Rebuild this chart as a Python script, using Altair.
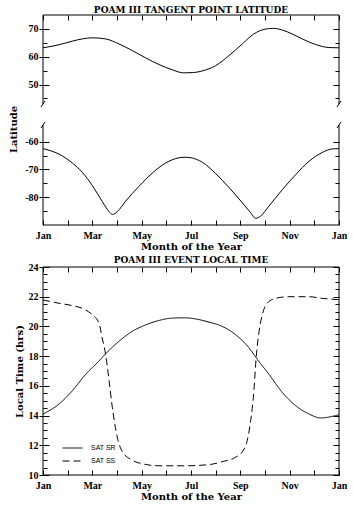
import json
import altair as alt
import pandas as pd

# ---------------- data ----------------
month_labels = ["Jan", "Mar", "May", "Jul", "Sep", "Nov", "Jan"]
month_ticks = list(range(13))
month_domain = [0, 12]

lat_upper = [43, 75]
lat_lower = [-90, -54]
lat_major = [-80, -70, -60, 50, 60, 70]
lat_minor = [-85, -75, -65, 45, 55, 65]

time_domain = [10, 24]
time_major = [10, 12, 14, 16, 18, 20, 22, 24]
time_minor = [10.5, 11, 11.5, 12.5, 13, 13.5, 14.5, 15, 15.5, 16.5, 17, 17.5,
              18.5, 19, 19.5, 20.5, 21, 21.5, 22.5, 23, 23.5]

north_month = [0, 0.65, 1.19, 1.59, 2.0, 2.54, 3.08, 3.62, 4.16, 4.70, 5.24, 5.70,
               6.10, 6.46, 7.0, 7.54, 8.08, 8.55, 9.0, 9.35, 9.7, 10.1, 10.51,
               11.05, 11.59, 12.0]
north_lat = [63.2, 64.3, 65.6, 66.4, 66.8, 66.4, 64.6, 62.2, 59.6, 57.2, 55.3, 54.2,
             54.3, 54.9, 56.8, 60.4, 64.6, 68.2, 69.9, 70.2, 69.6, 68.2, 66.4,
             64.4, 63.3, 63.2]

south_month = [0, 0.65, 1.19, 1.59, 2.0, 2.40, 2.68, 2.82, 3.01, 3.35, 3.89, 4.43,
               4.97, 5.51, 5.75, 6.0, 6.46, 7.0, 7.54, 8.08, 8.42, 8.62, 8.82, 9.16,
               9.70, 10.24, 10.78, 11.32, 11.73, 12.0]
south_lat = [-62.5, -64.5, -67.7, -71.0, -75.8, -81.5, -85.2, -86.2, -85.2, -81.4,
             -76.1, -71.3, -67.7, -65.8, -65.6, -65.8, -67.4, -71.5, -76.5, -82.0,
             -85.6, -87.6, -86.8, -83.2, -77.3, -71.9, -67.1, -63.9, -62.6, -62.5]

series_names = ["SAT SR", "SAT SS"]
sr_month = [0, 0.65, 1.19, 1.73, 2.27, 2.54, 3.08, 3.62, 4.16, 4.70, 5.24, 5.78,
            6.2, 6.73, 7.27, 7.81, 8.35, 8.69, 9.16, 9.70, 10.24, 10.78, 11.26,
            11.87, 12.0]
sr_time = [14.1, 14.78, 15.67, 16.78, 17.67, 18.16, 19.0, 19.67, 20.1, 20.4, 20.56,
           20.58, 20.5, 20.29, 20.0, 19.44, 18.56, 17.78, 16.78, 15.56, 14.67,
           14.11, 13.84, 14.0, 14.05]
ss_month = [0, 0.65, 1.19, 1.73, 2.0, 2.27, 2.40, 2.54, 2.68, 2.81, 3.01, 3.22,
            3.62, 4.16, 4.70, 5.78, 6.73, 7.27, 7.81, 8.08, 8.28, 8.42, 8.55, 8.62,
            8.76, 8.89, 9.09, 9.43, 9.97, 10.78, 11.32, 12.0]
ss_time = [21.78, 21.56, 21.4, 21.11, 20.78, 20.22, 19.22, 18.1, 16.33, 14.56,
           12.56, 11.56, 11.0, 10.71, 10.62, 10.62, 10.7, 10.9, 11.2, 11.56, 12.33,
           13.67, 15.67, 17.44, 19.67, 20.78, 21.56, 21.89, 22.0, 22.0, 21.89, 21.8]

# ---------------- style ----------------
LABEL_FONT = "Liberation Serif"
TITLE_FONT = "DejaVu Serif"
W = 296
LAT_H = 210
LOWER_PX = 100
UPPER_PX = 89
TIME_H = 208

x_scale = alt.Scale(domain=month_domain, nice=False, zero=False)
lat_scale = alt.Scale(domain=lat_lower + lat_upper,
                      range=[LAT_H, LAT_H - LOWER_PX, UPPER_PX, 0],
                      nice=False, zero=False)
time_scale = alt.Scale(domain=time_domain, nice=False, zero=False)
dash_scale = alt.Scale(domain=series_names, range=[[1, 0], [7, 4]])

month_lab = [month_labels[m // 2] if m % 2 == 0 else "" for m in month_ticks]
month_expr = json.dumps(month_lab) + "[datum.value]"
neg_expr = "datum.value < 0 ? '-' + abs(datum.value) : '' + datum.value"


def x_bottom():
    return alt.Axis(orient="bottom", values=month_ticks, labelExpr=month_expr,
                    title="Month of the Year", offset=-5, tickSize=5, domain=False,
                    grid=False, labelPadding=5, titlePadding=1, labelFlush=False,
                    labelOverlap=False)


def x_top():
    return alt.Axis(orient="top", values=month_ticks, labels=False, title="",
                    offset=-5, tickSize=5, domain=False, grid=False)


def y_major(orient, values, title="", tpad=5, expr=None, title_y=None):
    if orient == "left":
        kw = dict(offset=-6, tickSize=10, labelPadding=1, labelOverlap=False,
                  title=title, titlePadding=tpad)
        if expr:
            kw["labelExpr"] = expr
        if title_y is not None:
            kw["titleY"] = title_y
    else:
        kw = dict(offset=-6, tickSize=6, labels=False, title="")
    return alt.Axis(orient=orient, values=values, domain=False, grid=False, **kw)


def y_minor(orient, values):
    return alt.Axis(orient=orient, values=values, labels=False, title="",
                    offset=-4, tickSize=4, domain=False, grid=False)


# ---------------- top panel: latitude ----------------
north_df = pd.DataFrame({"month": north_month, "lat": north_lat})
south_df = pd.DataFrame({"month": south_month, "lat": south_lat})

x0, x1 = month_domain
frame_lat = pd.DataFrame({
    "x": [x0, x1, x0, x1, x0, x0],
    "x2": [x0, x1, x0, x1, x1, x1],
    "y": [lat_upper[0], lat_upper[0], lat_lower[0], lat_lower[0], lat_upper[1], lat_lower[0]],
    "y2": [lat_upper[1], lat_upper[1], lat_lower[1], lat_lower[1], lat_upper[1], lat_lower[0]],
})
breaks = pd.DataFrame({"x": [x0, x1, x0, x1],
                       "y": [lat_upper[0], lat_upper[0], lat_lower[1], lat_lower[1]]})

line_n = alt.Chart(north_df).mark_line(color="black", strokeWidth=1, interpolate="monotone").encode(
    x=alt.X("month:Q", scale=x_scale, axis=x_bottom()),
    y=alt.Y("lat:Q", scale=lat_scale,
            axis=y_major("left", lat_major, "Latitude", 6, neg_expr, 114)),
)
line_s = alt.Chart(south_df).mark_line(color="black", strokeWidth=1, interpolate="monotone").encode(
    x=alt.X("month:Q", scale=x_scale, axis=x_top()),
    y=alt.Y("lat:Q", scale=lat_scale, axis=y_minor("left", lat_minor)),
)
frame_l = alt.Chart(frame_lat).mark_rule(color="black", strokeWidth=1).encode(
    x=alt.X("x:Q", scale=x_scale, axis=None),
    x2="x2:Q",
    y=alt.Y("y:Q", scale=lat_scale, axis=y_major("right", lat_major)),
    y2="y2:Q",
)
break_l = alt.Chart(breaks).mark_rule(color="black", strokeWidth=1, xOffset=-2, x2Offset=2,
                                      yOffset=3, y2Offset=-3).encode(
    x=alt.X("x:Q", scale=x_scale, axis=None),
    x2="x:Q",
    y=alt.Y("y:Q", scale=lat_scale, axis=y_minor("right", lat_minor)),
    y2="y:Q",
)

top = alt.layer(line_n, line_s, frame_l, break_l).resolve_axis(
    x="independent", y="independent"
).properties(
    width=W, height=LAT_H,
    title=alt.TitleParams("POAM III TANGENT POINT LATITUDE", offset=0),
)

# ---------------- bottom panel: local time ----------------
sr_df = pd.DataFrame({"month": sr_month, "hrs": sr_time, "event": series_names[0]})
ss_df = pd.DataFrame({"month": ss_month, "hrs": ss_time, "event": series_names[1]})

legend = alt.Legend(orient="none", legendX=21.5, legendY=173, direction="vertical",
                    title=None, symbolType="M-1.33,0H1.33", symbolSize=225,
                    symbolStrokeWidth=1, symbolStrokeColor="black",
                    labelFont="Liberation Sans", labelFontSize=7, labelColor="black",
                    labelOffset=10.5, rowPadding=2, padding=0)

frame_time_v = pd.DataFrame({"x": [x0, x1], "y": [time_domain[0]] * 2, "y2": [time_domain[1]] * 2})
frame_time_h = pd.DataFrame({"x": [x0, x0], "x2": [x1, x1], "y": time_domain})

sr_line = alt.Chart(sr_df).mark_line(color="black", strokeWidth=1, interpolate="monotone").encode(
    x=alt.X("month:Q", scale=x_scale, axis=x_bottom()),
    y=alt.Y("hrs:Q", scale=time_scale,
            axis=y_major("left", time_major, "Local Time (hrs)", 4)),
    strokeDash=alt.StrokeDash("event:N", scale=dash_scale, legend=legend),
)
ss_line = alt.Chart(ss_df).mark_line(color="black", strokeWidth=1, interpolate="monotone").encode(
    x=alt.X("month:Q", scale=x_scale, axis=x_top()),
    y=alt.Y("hrs:Q", scale=time_scale, axis=y_minor("left", time_minor)),
    strokeDash=alt.StrokeDash("event:N", scale=dash_scale, legend=legend),
)
fv = alt.Chart(frame_time_v).mark_rule(color="black", strokeWidth=1).encode(
    x=alt.X("x:Q", scale=x_scale, axis=None),
    y=alt.Y("y:Q", scale=time_scale, axis=y_major("right", time_major)),
    y2="y2:Q",
)
fh = alt.Chart(frame_time_h).mark_rule(color="black", strokeWidth=1).encode(
    x=alt.X("x:Q", scale=x_scale, axis=None),
    x2="x2:Q",
    y=alt.Y("y:Q", scale=time_scale, axis=y_minor("right", time_minor)),
)

bottom = alt.layer(sr_line, ss_line, fv, fh).resolve_axis(
    x="independent", y="independent"
).properties(
    width=W, height=TIME_H,
    title=alt.TitleParams("POAM III EVENT LOCAL TIME", offset=-3),
)

chart = alt.vconcat(top, bottom, spacing=5).resolve_legend(
    strokeDash="independent"
).properties(
    padding={"left": 8, "top": 5, "right": 0, "bottom": 0},
    background="white",
).configure_view(strokeOpacity=0).configure_axis(
    labelFont=LABEL_FONT, labelFontWeight="bold", labelFontSize=10, labelColor="black",
    titleFont=TITLE_FONT, titleFontWeight="bold", titleFontSize=10, titleColor="black",
    tickColor="black", tickWidth=1,
).configure_title(
    font=TITLE_FONT, fontWeight="bold", fontSize=9, color="black", anchor="middle",
)

chart.save("out.html", embed_options={"renderer": "svg", "actions": False})
